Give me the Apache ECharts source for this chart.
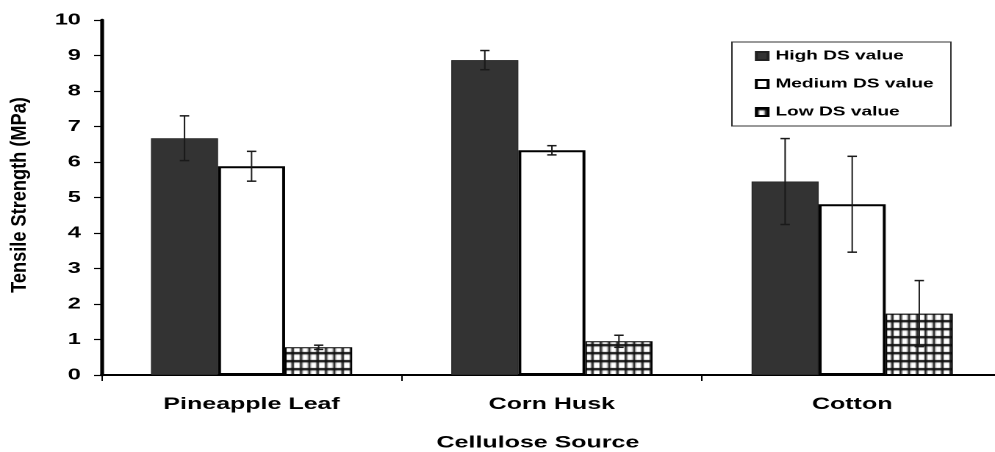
<!DOCTYPE html>
<html>
<head>
<meta charset="utf-8">
<script src="https://cdn.jsdelivr.net/npm/echarts@6/dist/echarts.min.js"></script>
<style>
  html, body { margin: 0; padding: 0; background: #fff; overflow: hidden; }
  #wrap { width: 995px; height: 452px; overflow: hidden; }
  /* the figure is laid out on a narrower canvas and widened horizontally */
  #chart { width: 700px; height: 452px; transform: scaleX(1.4697); transform-origin: 0 0; }
</style>
</head>
<body>
<div id="wrap"><div id="chart"></div></div>
<script>
// Tensile strength (MPa) by cellulose source and degree of substitution
const categories = ['Pineapple Leaf', 'Corn Husk', 'Cotton'];
const seriesNames = ['High DS value', 'Medium DS value', 'Low DS value'];
const highDS = [6.67, 8.87, 5.45];
const highErr = [0.63, 0.27, 1.21];
const mediumDS = [5.88, 6.33, 4.81];
const mediumErr = [0.42, 0.13, 1.35];
const lowDS = [0.78, 0.95, 1.73];
const lowErr = [0.06, 0.17, 0.93];
const yTicks = [0, 1, 2, 3, 4, 5, 6, 7, 8, 9, 10];

const FONT = '"Liberation Sans", Arial, Helvetica, sans-serif';
const GAP = 0.33;

// checkered fill for the low DS bars
function gridPattern() {
  const c = document.createElement('canvas');
  c.width = 34; c.height = 32;
  const ctx = c.getContext('2d');
  ctx.fillStyle = '#ffffff';
  ctx.fillRect(0, 0, c.width, c.height);
  ctx.fillStyle = '#111111';
  const cw = c.width / 6, ch = c.height / 4;
  for (let i = 0; i < 6; i++) ctx.fillRect(i * cw, 0, 1.6, c.height);
  for (let j = 0; j < 4; j++) ctx.fillRect(0, j * ch, c.width, 2.4);
  return c;
}

function errorSeries(values, errs, slot) {
  return {
    type: 'custom',
    z: 5,
    silent: true,
    data: categories.map((c, i) => [i, values[i], errs[i]]),
    encode: { x: 0, y: 1 },
    renderItem: function (params, api) {
      const cat = api.value(0), v = api.value(1), e = api.value(2);
      const band = api.size([1, 0])[0];
      const bw = band * (1 - GAP) / 3;
      const x = api.coord([cat, v])[0] + (slot - 1) * bw;
      const yTop = api.coord([cat, v + e])[1];
      const yBot = api.coord([cat, v - e])[1];
      const cap = 3.2;
      const st = { stroke: '#1a1a1a', lineWidth: 1 };
      const capSt = { stroke: '#1a1a1a', lineWidth: 1.5 };
      return {
        type: 'group',
        children: [
          { type: 'line', shape: { x1: x, y1: yTop, x2: x, y2: yBot }, style: st },
          { type: 'line', shape: { x1: x - cap, y1: yTop, x2: x + cap, y2: yTop }, style: capSt },
          { type: 'line', shape: { x1: x - cap, y1: yBot, x2: x + cap, y2: yBot }, style: capSt }
        ]
      };
    }
  };
}

const chart = echarts.init(document.getElementById('chart'), null, { renderer: 'canvas', devicePixelRatio: 2 });

chart.setOption({
  animation: false,
  backgroundColor: '#ffffff',
  textStyle: { fontFamily: FONT },
  grid: { left: 69, top: 20, width: 613, height: 355, containLabel: false },
  legend: {
    data: seriesNames,
    orient: 'vertical',
    left: 513.6,
    top: 49,
    padding: 0,
    icon: 'rect',
    itemWidth: 8,
    itemHeight: 8,
    itemGap: 14,
    textStyle: { fontFamily: FONT, fontSize: 13, fontWeight: 'bold', color: '#000', lineHeight: 14 }
  },
  xAxis: {
    type: 'category',
    data: categories,
    axisLine: { lineStyle: { color: '#000', width: 2 } },
    axisTick: { show: true, inside: false, length: 6, lineStyle: { color: '#000', width: 1 } },
    axisLabel: { margin: 21, fontSize: 17, fontWeight: 'bold', color: '#000', fontFamily: FONT },
    splitLine: { show: false }
  },
  yAxis: {
    type: 'value',
    min: yTicks[0],
    max: yTicks[yTicks.length - 1],
    interval: 1,
    axisLine: { show: true, lineStyle: { color: '#000', width: 2.6 } },
    axisTick: { show: true, inside: false, length: 5, lineStyle: { color: '#000', width: 1.2 } },
    axisLabel: { margin: 14, fontSize: 16, fontWeight: 'bold', color: '#000', fontFamily: FONT },
    splitLine: { show: false }
  },
  graphic: [
    {
      type: 'rect', x: 498, y: 42, z: 1,
      shape: { x: 0, y: 0, width: 149, height: 84 },
      style: { fill: 'none', stroke: '#333', lineWidth: 1 }
    },
    {
      type: 'text', x: 13.6, y: 195, rotation: Math.PI / 2, scaleX: 1.07, scaleY: 0.86,
      style: { text: 'Tensile Strength (MPa)', font: 'bold 17px ' + FONT, fill: '#000', align: 'center', verticalAlign: 'middle' }
    },
    {
      type: 'text', x: 366, y: 443,
      style: { text: 'Cellulose Source', font: 'bold 17px ' + FONT, fill: '#000', align: 'center', verticalAlign: 'middle' }
    }
  ],
  series: [
    {
      name: seriesNames[0], type: 'bar', data: highDS,
      barGap: '0%', barCategoryGap: (GAP * 100) + '%',
      itemStyle: { color: '#333333', borderColor: '#222', borderWidth: 0.6 }
    },
    {
      name: seriesNames[1], type: 'bar', data: mediumDS,
      barGap: '0%', barCategoryGap: (GAP * 100) + '%',
      itemStyle: { color: '#ffffff', borderColor: '#000', borderWidth: 2 }
    },
    {
      name: seriesNames[2], type: 'bar', data: lowDS,
      barGap: '0%', barCategoryGap: (GAP * 100) + '%',
      itemStyle: { color: { image: gridPattern(), repeat: 'repeat' }, borderColor: '#000', borderWidth: 1 }
    },
    errorSeries(highDS, highErr, 0),
    errorSeries(mediumDS, mediumErr, 1),
    errorSeries(lowDS, lowErr, 2)
  ]
});
</script>
</body>
</html>
